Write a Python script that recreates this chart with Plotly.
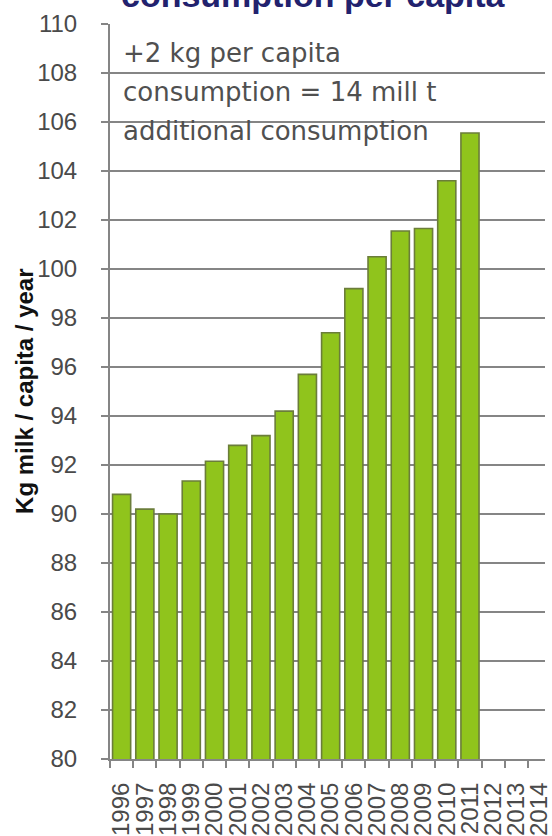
import plotly.graph_objects as go

# Milk consumption per head, kg per capita per year
years = [str(y) for y in range(1996, 2015)]
consumption = [90.8, 90.2, 90.0, 91.35, 92.15, 92.8, 93.2, 94.2, 95.7, 97.4,
               99.2, 100.5, 101.55, 101.65, 103.6, 105.55,
               None, None, None]

y_ticks = list(range(80, 111, 2))

note_lines = ["+2 kg per capita", "consumption = 14 mill t", "additional consumption"]
title_text = "consumption per capita"
y_title = "Kg milk / capita / year"

W, H = 552, 836
M_L, M_R, M_T, M_B = 110, 0, 24, 76
plot_h = H - M_T - M_B

GRID = "#858585"
TXT = "#4a4a4a"

fig = go.Figure(
    go.Bar(
        x=years,
        y=consumption,
        marker=dict(color="#90c41c", line=dict(color="#6b7d3a", width=1.6)),
    )
)

fig.update_layout(
    width=W,
    height=H,
    margin=dict(l=M_L, r=M_R, t=M_T, b=M_B),
    paper_bgcolor="white",
    plot_bgcolor="white",
    bargap=0.22,
    showlegend=False,
    font=dict(family="Liberation Sans, Arial, sans-serif", color=TXT),
)

fig.update_xaxes(
    type="category",
    range=[-0.5, 18.23],
    tickmode="linear",
    tick0=0,
    dtick=1,
    tickangle=-90,
    tickson="boundaries",
    ticks="outside",
    ticklen=7,
    tickwidth=2,
    tickcolor=GRID,
    showline=True,
    linecolor=GRID,
    linewidth=2,
    showgrid=False,
    ticklabelstandoff=12,
    tickfont=dict(size=24, color=TXT),
)

fig.update_yaxes(
    range=[80, 110],
    tickvals=y_ticks,
    ticktext=[str(v) for v in y_ticks],
    ticks="outside",
    ticklen=7,
    tickwidth=2,
    tickcolor=GRID,
    showline=True,
    linecolor=GRID,
    linewidth=2,
    showgrid=True,
    gridcolor=GRID,
    gridwidth=2,
    zeroline=False,
    ticklabelstandoff=19,
    tickfont=dict(size=24, color=TXT),
)


def py(px):
    """Convert a pixel row (from the top of the page) to paper y."""
    return 1 - (px - M_T) / plot_h


# Multi-line note inside the plot, one annotation per line
for i, line in enumerate(note_lines):
    fig.add_annotation(
        text=line,
        xref="paper", yref="paper",
        x=(121 - M_L) / (W - M_L), y=py(53 + 39 * i),
        xanchor="left", yanchor="middle",
        showarrow=False,
        font=dict(family="DejaVu Sans, sans-serif", size=26, color="#505050"),
    )

# Chart title, partly above the page edge
fig.add_annotation(
    text=f"<b>{title_text}</b>",
    xref="paper", yref="paper",
    x=(119 - M_L) / (W - M_L), y=py(-5),
    xanchor="left", yanchor="middle",
    showarrow=False,
    font=dict(family="Liberation Sans, Arial, sans-serif", size=34, color="#22226e"),
)

# Rotated y-axis title
fig.add_annotation(
    text=f"<b>{y_title}</b>",
    xref="paper", yref="paper",
    x=(23 - M_L) / (W - M_L), y=0.5,
    xanchor="center", yanchor="middle",
    textangle=-90,
    showarrow=False,
    font=dict(family="Liberation Sans, Arial, sans-serif", size=24, color="#111111"),
)

fig.write_html("out.html")
